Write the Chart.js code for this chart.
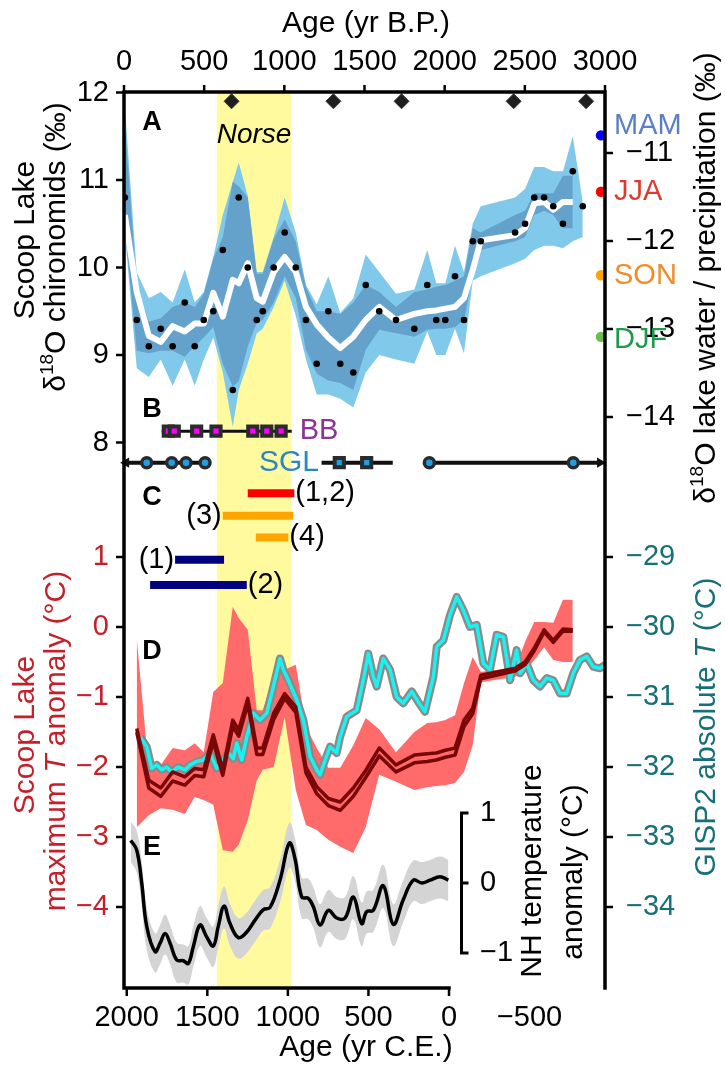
<!DOCTYPE html>
<html>
<head>
<meta charset="utf-8">
<script src="https://cdn.jsdelivr.net/npm/chart.js@4.4.1/dist/chart.umd.min.js"></script>
<style>
  html, body { margin: 0; padding: 0; background: #fff; }
  canvas { display: block; }
</style>
</head>
<body>
<canvas id="fig" width="725" height="1065"></canvas>
<script>
// ---- chironomid record (age in yr C.E.) ----
const chiroAge = [2012, 1938, 1863, 1789, 1715, 1640, 1578, 1522, 1463, 1404, 1342, 1305, 1249, 1193, 1156, 1088, 1020, 951, 888, 821, 749, 675, 594, 517, 433, 329, 215, 135, 79, 23, -37, -93, -147, -197, -410, -472, -529, -590, -647, -707, -768, -830];
const chiroD18O = [10.8, 9.4, 9.1, 9.3, 9.1, 9.6, 9.1, 9.4, 9.5, 10.2, 8.6, 10.8, 10.0, 9.4, 9.5, 10.0, 10.4, 10.0, 9.4, 8.9, 9.5, 8.9, 8.8, 9.8, 9.5, 9.4, 9.3, 9.8, 9.4, 9.4, 9.9, 9.4, 10.3, 10.3, 10.4, 10.5, 10.8, 10.8, 10.7, 10.5, 11.1, 10.7];
const chiroSmooth = [10.6, 9.72, 9.22, 9.15, 9.33, 9.27, 9.36, 9.36, 9.71, 9.44, 9.86, 9.82, 10.05, 9.65, 9.61, 9.95, 10.12, 9.95, 9.55, 9.35, 9.2, 9.08, 9.21, 9.4, 9.55, 9.4, 9.47, 9.5, 9.51, 9.53, 9.55, 9.65, 9.97, 10.31, 10.37, 10.45, 10.73, 10.75, 10.66, 10.75, 10.75, null];
const outerHi = [11.85, 9.95, 9.65, 9.72, 9.6, 9.98, 9.6, 9.72, 10.12, 10.6, 10.98, 11.2, 10.82, 9.95, 9.95, 10.35, 10.8, 10.4, 9.8, 9.58, 9.9, 9.48, 9.65, 10.15, 9.95, 9.7, 9.75, 10.2, 9.82, 9.82, 10.25, 9.95, 10.5, 10.7, 10.8, 10.9, 11.15, 11.15, 11.1, 11.1, 11.5, 10.75];
const outerLo = [10.4, 8.85, 8.75, 8.95, 8.65, 8.95, 8.65, 8.95, 9.2, 8.8, 8.18, 8.6, 8.9, 9.25, 9.3, 9.55, 9.85, 9.45, 8.95, 8.55, 8.55, 8.5, 8.4, 8.8, 9.0, 8.95, 8.9, 9.27, 9.0, 9.0, 9.3, 9.02, 9.85, 9.9, 10.05, 10.1, 10.2, 10.25, 10.25, 10.22, 10.3, 10.35];
const innerHi = [11.65, 9.8, 9.38, 9.42, 9.55, 9.6, 9.55, 9.7, 10.1, 10.35, 10.98, 10.93, 10.8, 9.93, 9.93, 10.33, 10.55, 10.3, 9.78, 9.5, 9.5, 9.47, 9.6, 9.8, 9.72, 9.55, 9.72, 9.75, 9.78, 9.8, 9.85, 9.9, 10.45, 10.4, 10.6, 10.65, 10.85, 10.85, 10.85, 11.05, 11.05, null];
const innerLo = [10.45, 9.05, 9.02, 9.05, 9.05, 8.98, 9.1, 9.2, 9.32, 8.9, 8.64, 8.7, 9.1, 9.37, 9.4, 9.6, 9.9, 9.65, 9.06, 8.79, 8.71, 8.68, 8.6, 9.06, 9.29, 9.25, 9.21, 9.29, 9.3, 9.3, 9.32, 9.4, 9.9, 10.2, 10.3, 10.35, 10.6, 10.65, 10.6, 10.45, 10.45, null];

// radiocarbon dates (yr B.P.)
const dateAgeBP = [671, 1306, 1731, 2430, 2882];
const dateLevel = 11.9;

// modern seasonal precipitation d18O
const seasonNames = ['MAM', 'JJA', 'SON', 'DJF'];
const seasonD18O = [-10.8, -11.44, -12.39, -13.09];
const seasonAge = -943;

// B: lake records (yr C.E.)
const bbAge = [1742, 1705, 1566, 1446, 1218, 1131, 1042];
const bbSpan = [1783, 976];
const bbLevel = 8.13;
const sglCircleAge = [1876, 1721, 1632, 1514, 122, -771];
const sglSquareAge = [681, 511];
const sglLineAge = [2004, 1514, null, 791, 349, null, 122, -937];
const sglArrowAge = [2004, -937];
const sglLevel = 7.77;

// C: settlement intervals
const cStart = [1249, 1404, 1199, 1700, 1855];
const cEnd = [960, 966, 997, 1396, 1255];
const cLevel = [1.91, 1.59, 1.28, 0.96, 0.6];
const cLabels = ['(1,2)', '(3)', '(4)', '(1)', '(2)'];
const cLabelSide = ['right', 'left', 'right', 'left', 'right'];

// D: Scoop Lake maximum T anomaly (°C)
const tmaxA = [null, -1.45, -2.19, -2.30, -2.07, -2.14, -2.02, -2.04, -1.54, -2.04, -1.33, -1.47, -1.02, -1.73, -1.73, -1.23, -0.95, -1.14, -2.0, -2.28, -2.45, -2.5, -2.3, -2.05, -1.73, -1.97, -1.83, -1.81, -1.80, -1.76, -1.73, -1.33, -1.16, -0.69, -0.59, -0.5, -0.3, -0.04, -0.19, -0.03, -0.04, null];
const tmaxB = [null, -1.5, -2.3, -2.42, -2.2, -2.26, -2.12, -2.14, -1.64, -2.12, -1.42, -1.56, -1.1, -1.82, -1.82, -1.32, -1.02, -1.22, -2.08, -2.38, -2.55, -2.62, -2.42, -2.15, -1.84, -2.07, -1.94, -1.92, -1.9, -1.86, -1.83, -1.42, -1.24, -0.74, -0.63, -0.54, -0.34, -0.07, -0.22, -0.06, -0.06, null];
const tmaxHi = [null, -0.16, -2.04, -1.97, -1.73, -1.76, -1.66, -1.79, -0.93, -0.80, 0.29, 0.13, -0.04, -1.19, -1.19, -0.71, -0.61, -0.54, -1.43, -1.73, -2.01, -2.01, -1.69, -1.30, -1.46, -1.79, -1.5, -1.37, -1.36, -1.33, -1.26, -0.80, -0.43, -0.64, -0.59, -0.21, 0.07, 0.07, 0.06, 0.39, 0.39, null];
const tmaxLo = [null, -2.86, -2.69, -2.59, -2.61, -2.67, -2.43, -2.47, -2.54, -3.19, -3.21, -3.11, -2.76, -2.19, -2.04, -2.0, -1.29, -2.33, -2.83, -2.9, -3.04, -3.14, -3.23, -2.86, -2.11, -2.21, -2.33, -2.29, -2.27, -2.26, -2.23, -2.07, -1.69, -0.79, -0.71, -0.64, -0.47, -0.29, -0.47, -0.5, -0.5, null];

// D: GISP2 absolute temperature (°C)
const gispAge = [1917, 1876, 1845, 1814, 1783, 1752, 1721, 1680, 1638, 1607, 1566, 1525, 1483, 1442, 1401, 1370, 1339, 1317, 1286, 1255, 1214, 1173, 1131, 1090, 1049, 1028, 997, 945, 904, 862, 821, 800, 769, 738, 697, 676, 635, 573, 532, 501, 470, 449, 408, 366, 325, 284, 231, 191, 149, 97, 76, 35, -6, -48, -89, -130, -172, -213, -254, -296, -337, -379, -420, -441, -482, -523, -565, -606, -647, -689, -730, -771, -813, -854, -896, -937, -968];
const gispT = [-31.57, -31.71, -32.02, -31.97, -32.04, -32.0, -32.07, -32.0, -32.04, -31.97, -31.92, -31.9, -31.8, -32.02, -31.9, -31.8, -31.88, -31.66, -31.9, -31.57, -31.23, -31.33, -31.23, -30.85, -30.45, -30.61, -30.76, -31.04, -31.33, -31.85, -32.04, -32.11, -31.9, -31.71, -31.8, -31.57, -31.28, -31.19, -30.76, -30.38, -30.71, -30.85, -30.45, -30.61, -31.0, -31.09, -30.92, -31.07, -31.21, -30.71, -30.28, -30.19, -29.83, -29.57, -29.76, -30.0, -29.97, -30.52, -30.61, -30.11, -30.14, -30.76, -30.33, -30.66, -30.52, -30.76, -30.85, -30.73, -30.76, -30.95, -30.95, -30.66, -30.47, -30.42, -30.57, -30.59, -30.54];

// E: NH temperature anomaly (°C)
const nhAge = [1975, 1938, 1907, 1876, 1824, 1793, 1762, 1731, 1690, 1649, 1618, 1587, 1545, 1504, 1463, 1432, 1396, 1359, 1307, 1255, 1204, 1152, 1111, 1049, 991, 956, 914, 873, 842, 800, 749, 697, 645, 594, 542, 511, 470, 408, 346, 284, 222, 169, 118, 56, 4];
const nhT = [0.61, 0.47, 0.0, -0.62, -0.98, -0.86, -0.72, -0.86, -1.10, -1.11, -1.15, -0.91, -0.60, -0.77, -0.90, -0.62, -0.33, -0.58, -0.78, -0.70, -0.53, -0.38, -0.35, 0.04, 0.57, 0.35, -0.20, -0.22, -0.34, -0.60, -0.39, -0.50, -0.50, -0.20, -0.58, -0.41, -0.39, -0.04, -0.59, -0.24, 0.04, 0.00, 0.04, 0.09, 0.04];
const nhHi = [0.88, 0.75, 0.3, -0.35, -0.72, -0.6, -0.45, -0.6, -0.85, -0.88, -0.9, -0.62, -0.33, -0.5, -0.62, -0.32, -0.05, -0.3, -0.5, -0.42, -0.25, -0.1, -0.06, 0.33, 0.86, 0.64, 0.08, 0.06, -0.06, -0.3, -0.1, -0.2, -0.2, 0.1, -0.28, -0.12, -0.1, 0.26, -0.3, 0.04, 0.32, 0.3, 0.33, 0.38, 0.33];
const nhLo = [0.3, 0.15, -0.32, -0.95, -1.28, -1.16, -1.02, -1.16, -1.42, -1.42, -1.45, -1.2, -0.9, -1.06, -1.2, -0.92, -0.65, -0.9, -1.08, -1.0, -0.84, -0.68, -0.65, -0.28, 0.22, 0.03, -0.5, -0.52, -0.64, -0.92, -0.7, -0.8, -0.8, -0.52, -0.9, -0.72, -0.7, -0.36, -0.9, -0.56, -0.26, -0.3, -0.26, -0.22, -0.26];

// Norse settlement period (yr C.E.)
const norseSpan = [1441, 980];

// tick values
const ceTicks = [2000, 1500, 1000, 500, 0, -500];
const bpTicks = [0, 500, 1000, 1500, 2000, 2500, 3000];
const d18OTicks = [12, 11, 10, 9, 8];
const lakeTicks = [-11, -12, -13, -14];
const tmaxTicks = [1, 0, -1, -2, -3, -4];
const gispTicks = [-29, -30, -31, -32, -33, -34];
const nhTicks = [1, 0, -1];

// ---- helpers ----
const FONT = '"Liberation Sans", Arial, Helvetica, sans-serif';
const pts = (xs, ys) => xs.map((x, i) => ({ x: x, y: ys[i] }));
const flat = (xs, level) => xs.map(x => ({ x: x, y: x === null ? null : level }));
const fmt = v => (v < 0 ? '\u2212' + Math.abs(v) : String(v));

function rich(ctx, parts, x, y, size, color, rot, align) {
  ctx.save();
  ctx.translate(x, y);
  ctx.rotate(rot || 0);
  ctx.fillStyle = color;
  ctx.textBaseline = 'middle';
  ctx.textAlign = 'left';
  const list = parts.map(p => (typeof p === 'string' ? { t: p } : Object.assign({}, p)));
  const fontOf = p => (p.b ? 'bold ' : '') + (p.it ? 'italic ' : '') + (p.sup ? Math.round(size * 0.62) : size) + 'px ' + FONT;
  let w = 0;
  list.forEach(p => { ctx.font = fontOf(p); p.w = ctx.measureText(p.t).width; w += p.w; });
  let cx = align === 'left' ? 0 : align === 'right' ? -w : -w / 2;
  list.forEach(p => {
    ctx.font = fontOf(p);
    ctx.fillText(p.t, cx, p.sup ? -size * 0.3 : 0);
    cx += p.w;
  });
  ctx.restore();
}

const UP = -Math.PI / 2;

// shading, axes and annotation text
const decor = {
  id: 'decor',
  beforeDatasetsDraw(chart) {
    const { ctx, chartArea: a, scales: s } = chart;
    const x0 = s.x.getPixelForValue(norseSpan[0]);
    const x1 = s.x.getPixelForValue(norseSpan[1]);
    ctx.save();
    ctx.fillStyle = '#fffa9e';
    ctx.fillRect(x0, a.top, x1 - x0, a.bottom - a.top);
    ctx.restore();
  },
  afterDraw(chart) {
    const { ctx, chartArea: a, scales: s } = chart;
    ctx.save();
    ctx.strokeStyle = '#000';
    ctx.lineWidth = 3.5;
    ctx.lineCap = 'square';
    ctx.beginPath();
    ctx.moveTo(a.left, a.bottom);
    ctx.lineTo(a.left, a.top);
    ctx.lineTo(a.right, a.top);
    ctx.lineTo(a.right, a.bottom);
    ctx.moveTo(a.left, a.bottom);
    ctx.lineTo(s.x.getPixelForValue(0), a.bottom);
    ctx.stroke();

    ctx.lineWidth = 2.5;
    ctx.lineCap = 'butt';
    ctx.beginPath();
    ceTicks.filter(v => v >= 0).forEach(v => {
      const px = s.x.getPixelForValue(v);
      ctx.moveTo(px, a.bottom); ctx.lineTo(px, a.bottom + 8);
    });
    bpTicks.forEach(v => {
      const px = s.xBP.getPixelForValue(v);
      ctx.moveTo(px, a.top); ctx.lineTo(px, a.top - 7);
    });
    d18OTicks.forEach(v => { const py = s.yA.getPixelForValue(v); ctx.moveTo(a.left, py); ctx.lineTo(a.left - 8, py); });
    tmaxTicks.forEach(v => { const py = s.yD.getPixelForValue(v); ctx.moveTo(a.left, py); ctx.lineTo(a.left - 8, py); });
    lakeTicks.forEach(v => { const py = s.yAr.getPixelForValue(v); ctx.moveTo(a.right, py); ctx.lineTo(a.right + 8, py); });
    gispTicks.forEach(v => { const py = s.yG.getPixelForValue(v); ctx.moveTo(a.right, py); ctx.lineTo(a.right + 8, py); });
    ctx.stroke();

    // NH bracket axis
    const bx = 461.5;
    ctx.lineWidth = 3;
    ctx.beginPath();
    ctx.moveTo(bx + 7, s.yE.getPixelForValue(1));
    ctx.lineTo(bx, s.yE.getPixelForValue(1));
    ctx.lineTo(bx, s.yE.getPixelForValue(-1));
    ctx.lineTo(bx + 7, s.yE.getPixelForValue(-1));
    ctx.moveTo(bx, s.yE.getPixelForValue(0));
    ctx.lineTo(bx + 7, s.yE.getPixelForValue(0));
    ctx.stroke();
    ctx.restore();

    const red = '#c4202a', teal = '#176f78';
    // tick labels
    ceTicks.forEach(v => rich(ctx, [fmt(v)], s.x.getPixelForValue(v), 1018, 29, '#000', 0));
    bpTicks.forEach(v => rich(ctx, [String(v)], s.xBP.getPixelForValue(v), 62, 29, '#000', 0));
    d18OTicks.forEach(v => rich(ctx, [fmt(v)], 109, s.yA.getPixelForValue(v), 29, '#000', 0, 'right'));
    tmaxTicks.forEach(v => rich(ctx, [fmt(v)], 109, s.yD.getPixelForValue(v), 29, red, 0, 'right'));
    lakeTicks.forEach(v => rich(ctx, [fmt(v)], 626, s.yAr.getPixelForValue(v), 29, '#000', 0, 'left'));
    gispTicks.forEach(v => rich(ctx, [fmt(v)], 626, s.yG.getPixelForValue(v), 29, teal, 0, 'left'));
    nhTicks.forEach(v => rich(ctx, [fmt(v)], 480, s.yE.getPixelForValue(v), 29, '#000', 0, 'left'));

    // axis titles
    rich(ctx, ['Age (yr C.E.)'], 366, 1048, 30, '#000', 0);
    rich(ctx, ['Age (yr B.P.)'], 366, 24, 30, '#000', 0);
    rich(ctx, ['Scoop Lake'], 26, 240, 30, '#000', UP);
    rich(ctx, ['\u03b4', { t: '18', sup: true }, 'O chironomids (\u2030)'], 57, 247, 30, '#000', UP);
    rich(ctx, ['Scoop Lake'], 26, 735, 30, red, UP);
    rich(ctx, ['maximum ', { t: 'T', it: true }, ' anomaly (\u00b0C)'], 57, 741, 30, red, UP);
    rich(ctx, ['\u03b4', { t: '18', sup: true }, 'O lake water / precipitation (\u2030)'], 707, 278, 30, '#000', UP);
    rich(ctx, ['GISP2 absolute ', { t: 'T', it: true }, ' (\u00b0C)'], 707, 727, 30, teal, UP);
    rich(ctx, ['NH temperature'], 533, 871, 30, '#000', UP);
    rich(ctx, ['anomaly (\u00b0C)'], 574, 872, 30, '#000', UP);

    // panel letters and annotations
    [['A', 123], ['B', 410], ['C', 498], ['D', 652], ['E', 848]].forEach(([t, y]) =>
      rich(ctx, [{ t: t, b: true }], 152, y, 27, '#000', 0));
    rich(ctx, [{ t: 'Norse', it: true }], 254, 135, 28, '#000', 0);
    rich(ctx, ['BB'], s.x.getPixelForValue(bbSpan[1]) + 8, s.yA.getPixelForValue(bbLevel), 29, '#8a3593', 0, 'left');
    rich(ctx, ['SGL'], 289, s.yA.getPixelForValue(sglLevel), 30, '#2a86c9', 0);

    cLabels.forEach((t, i) => {
      const py = s.yD.getPixelForValue(cLevel[i]);
      if (cLabelSide[i] === 'right') rich(ctx, [t], s.x.getPixelForValue(cEnd[i]) + 1, py, 29, '#000', 0, 'left');
      else rich(ctx, [t], s.x.getPixelForValue(cStart[i]) - 1, py, 29, '#000', 0, 'right');
    });

    const seasonText = ['#5b7fc4', '#e03a2e', '#f28c28', '#1f9a4a'];
    const seasonDy = [-9, 0, 1, 3];
    seasonNames.forEach((t, i) =>
      rich(ctx, [t], 614, s.yAr.getPixelForValue(seasonD18O[i]) + seasonDy[i], 29, seasonText[i], 0, 'left'));
  }
};

const none = 'rgba(0,0,0,0)';
const band = (lbl, xs, hi, lo, yId, color, order) => [
  { label: lbl + ' hi', data: pts(xs, hi), yAxisID: yId, fill: '+1', backgroundColor: color, borderColor: none, borderWidth: 0, order: order },
  { label: lbl + ' lo', data: pts(xs, lo), yAxisID: yId, fill: false, borderColor: none, borderWidth: 0, order: order }
];

const datasets = [
  ...band('outer', chiroAge, outerHi, outerLo, 'yA', '#80c9ea', 100),
  ...band('inner', chiroAge, innerHi, innerLo, 'yA', '#65a2cb', 99),
  { label: 'smooth', data: pts(chiroAge, chiroSmooth), yAxisID: 'yA', borderColor: '#fff', borderWidth: 6, order: 98 },
  { label: 'd18O', data: pts(chiroAge, chiroD18O), yAxisID: 'yA', showLine: false, pointRadius: 3.3, pointBackgroundColor: '#000', pointBorderWidth: 0, order: 97 },
  { label: 'dates', data: dateAgeBP.map(v => ({ x: v, y: dateLevel })), xAxisID: 'xBP', yAxisID: 'yA', showLine: false,
    pointStyle: 'rectRot', pointRadius: 7.5, pointBackgroundColor: '#1e1e1e', pointBorderColor: '#3a3a3a', pointBorderWidth: 1, order: 97, clip: false },
  { label: 'seasons', data: seasonD18O.map(v => ({ x: seasonAge, y: v })), yAxisID: 'yAr', showLine: false,
    pointRadius: 5.2, pointBackgroundColor: ['#0000ff', '#ff0000', '#ffa500', '#6abf45'], pointBorderWidth: 0, order: 97, clip: false },

  ...band('tmax', chiroAge, tmaxHi, tmaxLo, 'yD', '#ff6b6b', 90),
  { label: 'gisp outline', data: pts(gispAge, gispT), yAxisID: 'yG', borderColor: '#8a8a8a', borderWidth: 8, order: 89 },
  { label: 'gisp', data: pts(gispAge, gispT), yAxisID: 'yG', borderColor: '#1af2f2', borderWidth: 3.5, order: 88 },
  { label: 'tmax a', data: pts(chiroAge, tmaxA), yAxisID: 'yD', borderColor: '#7a0707', borderWidth: 3.5, order: 87 },
  { label: 'tmax b', data: pts(chiroAge, tmaxB), yAxisID: 'yD', borderColor: '#7a0707', borderWidth: 3.5, order: 87 },

  ...band('nh', nhAge, nhHi, nhLo, 'yE', '#d4d4d4', 80).map(d => Object.assign(d, { tension: 0.4 })),
  { label: 'nh', data: pts(nhAge, nhT), yAxisID: 'yE', borderColor: '#000', borderWidth: 3.5, tension: 0.4, order: 79 },

  { label: 'bb line', data: flat(bbSpan, bbLevel), yAxisID: 'yA', borderColor: '#111', borderWidth: 3, order: 70 },
  { label: 'bb', data: flat(bbAge, bbLevel), yAxisID: 'yA', showLine: false, pointStyle: 'rect', pointRadius: 6.5,
    pointBackgroundColor: '#ff00ff', pointBorderColor: '#2b2b2b', pointBorderWidth: 4, order: 69 },
  { label: 'sgl line', data: flat(sglLineAge, sglLevel), yAxisID: 'yA', borderColor: '#111', borderWidth: 4, order: 70, clip: false },
  { label: 'sgl arrows', data: flat(sglArrowAge, sglLevel), yAxisID: 'yA', showLine: false, pointStyle: 'triangle', pointRadius: 6,
    pointRotation: [-90, 90], pointBackgroundColor: '#111', pointBorderWidth: 0, order: 69, clip: false },
  { label: 'sgl circles', data: flat(sglCircleAge, sglLevel), yAxisID: 'yA', showLine: false, pointRadius: 5,
    pointBackgroundColor: '#1ea0e6', pointBorderColor: '#2b2b2b', pointBorderWidth: 3.5, order: 68 },
  { label: 'sgl squares', data: flat(sglSquareAge, sglLevel), yAxisID: 'yA', showLine: false, pointStyle: 'rect', pointRadius: 6.5,
    pointBackgroundColor: '#1ea0e6', pointBorderColor: '#2b2b2b', pointBorderWidth: 4, order: 68 }
];

const cColors = ['#ff0000', '#ffa500', '#ffa500', '#000080', '#000080'];
cStart.forEach((v, i) => datasets.push({
  label: 'c' + i, data: [{ x: v, y: cLevel[i] }, { x: cEnd[i], y: cLevel[i] }], yAxisID: 'yD',
  borderColor: cColors[i], borderWidth: 8, borderCapStyle: 'butt', order: 70
}));

const lin = (axis, min, max, extra) => Object.assign({ type: 'linear', axis: axis, min: min, max: max, display: false, bounds: 'data' }, extra || {});

new Chart(document.getElementById('fig'), {
  type: 'line',
  data: { datasets: datasets },
  options: {
    responsive: false,
    animation: false,
    devicePixelRatio: 1,
    events: [],
    layout: { padding: { left: 124, right: 120, top: 92, bottom: 77 } },
    elements: { point: { radius: 0 }, line: { borderJoinStyle: 'round', tension: 0 } },
    plugins: { legend: { display: false }, tooltip: { enabled: false }, filler: { propagate: false } },
    scales: {
      x: lin('x', -968, 2017, { reverse: true }),
      xBP: lin('x', 0, 3000, { position: 'top' }),
      yA: lin('y', 1.766, 12.006),
      yAr: lin('y', -20.489, -10.307),
      yD: lin('y', -5.157, 7.643),
      yG: lin('y', -35.157, -22.357),
      yE: lin('y', -1.5, 11.3)
    }
  },
  plugins: [decor]
});
</script>
</body>
</html>
